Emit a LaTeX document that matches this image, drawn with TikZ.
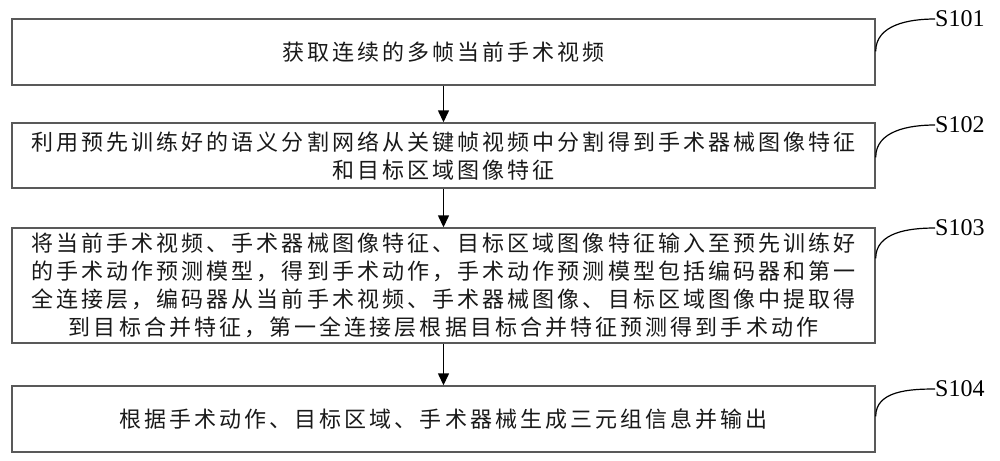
\documentclass[tikz,border=0pt]{standalone}
\usepackage{fontspec}
\setmainfont{Liberation Serif}
\newfontfamily\cjk{Noto Sans CJK SC}[LetterSpace=14]
\usetikzlibrary{arrows.meta}
\begin{document}
\begin{tikzpicture}[x=1pt,y=-1pt,
  stepbox/.style={draw=black!65,line width=1.4pt,minimum width=863pt,inner sep=0pt,align=center,
    font=\cjk\fontsize{22}{28}\selectfont,text=black!90},
  steplabel/.style={anchor=west,inner sep=0pt,font=\fontsize{24}{24}\selectfont},
  flow/.style={line width=1.4pt,-{Triangle[width=11pt,length=12pt]}},
  leader/.style={line width=1.2pt}]
\useasboundingbox (0,0) rectangle (1000,460);
\node[stepbox,minimum height=66pt] (b1) at (443.5,52) {获取连续的多帧当前手术视频};
\node[stepbox,minimum height=65pt] (b2) at (443.5,155.5) {利用预先训练好的语义分割网络从关键帧视频中分割得到手术器械图像特征\\和目标区域图像特征};
\node[stepbox,minimum height=115pt] (b3) at (443.5,285.5) {将当前手术视频、手术器械图像特征、目标区域图像特征输入至预先训练好\\的手术动作预测模型，得到手术动作，手术动作预测模型包括编码器和第一\\全连接层，编码器从当前手术视频、手术器械图像、目标区域图像中提取得\\到目标合并特征，第一全连接层根据目标合并特征预测得到手术动作};
\node[stepbox,minimum height=66pt] (b4) at (443.5,419) {根据手术动作、目标区域、手术器械生成三元组信息并输出};
\node[steplabel] (l1) at (935,19) {S101};
\node[steplabel] (l2) at (935,125) {S102};
\node[steplabel] (l3) at (935,228) {S103};
\node[steplabel] (l4) at (935,389) {S104};
\draw[flow] (b1) -- (b2);
\draw[flow] (b2) -- (b3);
\draw[flow] (b3) -- (b4);
\draw[leader] ([yshift=-33pt]b1.north east) to[out=90,in=180] (l1.west);
\draw[leader] ([yshift=-35pt]b2.north east) to[out=90,in=180] (l2.west);
\draw[leader] ([yshift=-31pt]b3.north east) to[out=90,in=180] (l3.west);
\draw[leader] ([yshift=-31pt]b4.north east) to[out=90,in=180] (l4.west);
\end{tikzpicture}
\end{document}
